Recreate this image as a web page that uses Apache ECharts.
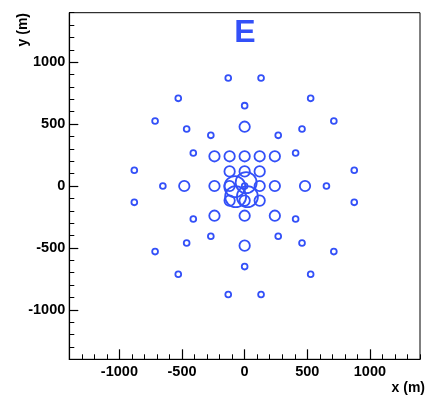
<!DOCTYPE html>
<html>
<head>
<meta charset="utf-8">
<script src="https://cdn.jsdelivr.net/npm/echarts@6/dist/echarts.min.js"></script>
<style>html,body{margin:0;padding:0;background:#fff}#c{width:429px;height:399px}</style>
</head>
<body>
<div id="c"></div>
<script>
// Detector positions (m)
const smallPoints = [
  [-131, 872], [131, 872], [-530, 708], [527, 708], [0, 649],
  [-715, 525], [712, 525], [-463, 460], [458, 460], [-270, 409], [268, 409],
  [-410, 266], [407, 266], [-881, 127], [875, 127], [-653, 0], [653, 0],
  [-881, -132], [875, -132], [-410, -266], [407, -266], [-270, -406], [268, -406],
  [-463, -460], [458, -460], [-715, -530], [712, -530], [0, -651],
  [-530, -713], [527, -713], [-131, -877], [131, -877],
  [0, 0]
];
const mediumPoints = [
  [0, 479], [0, -482], [-482, 0], [482, 0],
  [-241, 240], [-120, 240], [0, 240], [120, 240], [241, 240],
  [-120, 118], [0, 118], [120, 118],
  [-241, 0], [-120, 0], [120, 0], [241, 0],
  [-120, -118], [0, -118], [120, -118],
  [-241, -240], [0, -240], [241, -240]
];
const largePoints = [
  [-78, -5], [12, 27], [-72, -86], [22, -86]
];
const majorTicks = [-1000, -500, 0, 500, 1000];
const titleText = 'E';

const blue = '#3350f8';
const labelFont = {fontFamily: 'Liberation Sans', fontWeight: 'bold', fontSize: 14.5, color: '#000'};

function ser(data, size) {
  return {
    type: 'scatter', data: data, symbol: 'circle', symbolSize: size,
    xAxisIndex: 0, yAxisIndex: 0,
    itemStyle: {color: 'rgba(0,0,0,0)', borderColor: blue, borderWidth: 1.8, opacity: 1},
    emphasis: {disabled: true}, silent: true
  };
}

const chart = echarts.init(document.getElementById('c'), null, {renderer: 'canvas'});
const grid = {left: 69.3, top: 12.7, width: 350.7, height: 346.6, show: true, borderColor: '#000', borderWidth: 1, backgroundColor: '#fff'};
const baseAxis = {
  type: 'value', min: -1400, max: 1400, interval: 100,
  axisLine: {show: true, onZero: false, lineStyle: {color: '#000', width: 1.2}},
  splitLine: {show: false},
  axisLabel: {show: false},
  axisTick: {show: true, inside: true, length: 5, lineStyle: {color: '#000', width: 1}}
};
const majorAxis = (pos, len, margin) => ({
  type: 'value', min: -1400, max: 1400, position: pos,
  axisLine: {show: false, onZero: false},
  splitLine: {show: false},
  axisTick: {show: true, inside: true, length: len, customValues: majorTicks, lineStyle: {color: '#000', width: 1.2}},
  axisLabel: Object.assign({show: true, margin: margin, customValues: majorTicks, formatter: v => String(v)}, labelFont)
});

chart.setOption({
  animation: false,
  grid: grid,
  xAxis: [Object.assign({position: 'bottom'}, baseAxis), majorAxis('bottom', 10, 5)],
  yAxis: [Object.assign({position: 'left'}, baseAxis), majorAxis('left', 9, 4)],
  series: [ser(smallPoints, 5.8), ser(mediumPoints, 10.4), ser(largePoints, 21)],
  graphic: [
    {type: 'text', x: 245, y: 33, style: {text: titleText, fill: blue, font: 'bold 32px "Liberation Sans"', textAlign: 'center', textVerticalAlign: 'middle'}},
    {type: 'text', x: 425, y: 388, style: {text: 'x (m)', fill: '#000', font: 'bold 14px "Liberation Sans"', textAlign: 'right', textVerticalAlign: 'middle'}},
    {type: 'text', x: 23, y: 13, rotation: Math.PI / 2, style: {text: 'y (m)', fill: '#000', font: 'bold 14px "Liberation Sans"', textAlign: 'right', textVerticalAlign: 'middle'}}
  ]
});
</script>
</body>
</html>
